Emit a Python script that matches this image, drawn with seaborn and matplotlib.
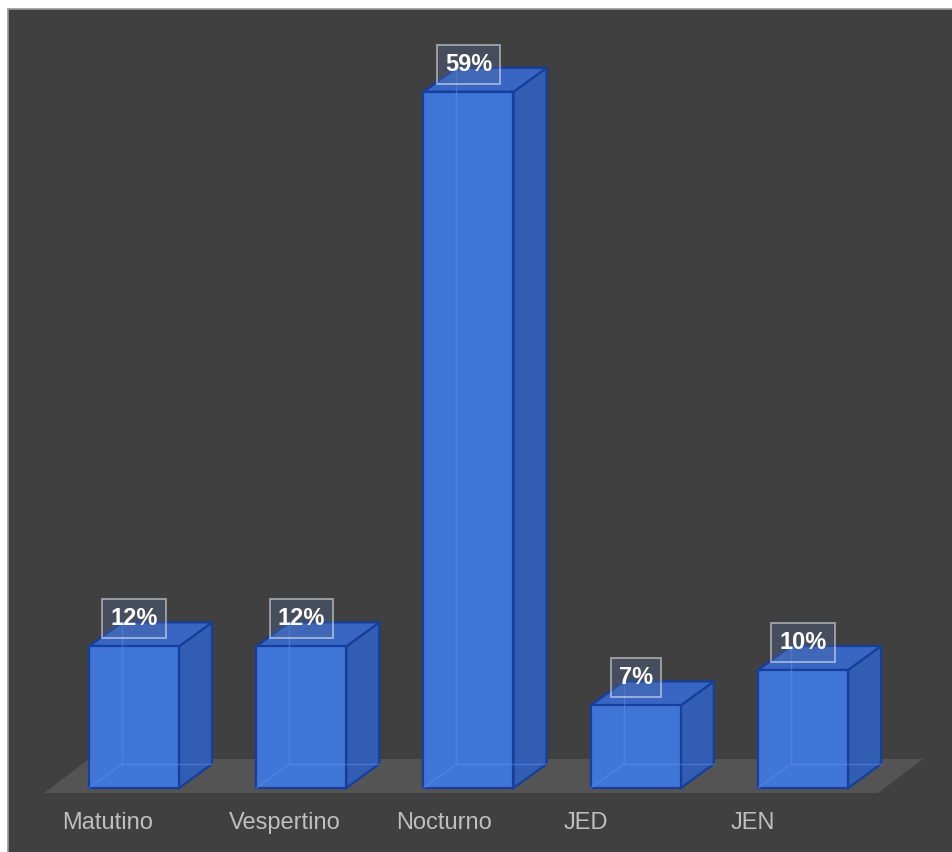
import numpy as np
import pandas as pd
import matplotlib
matplotlib.use("Agg")
import matplotlib.pyplot as plt
import seaborn as sns
from matplotlib.patches import Polygon, Rectangle
from matplotlib.lines import Line2D

categories = ["Matutino", "Vespertino", "Nocturno", "JED", "JEN"]
values = [12, 12, 59, 7, 10]
value_labels = ["12%", "12%", "59%", "7%", "10%"]

W, H = 953, 852
plt.rcParams["font.family"] = ["Liberation Sans", "DejaVu Sans"]

fig = plt.figure(figsize=(W / 100, H / 100), dpi=100)
fig.patch.set_facecolor("white")
# dark panel with thin light border at left/top
fig.patches.append(Rectangle((8 / W, 0), 1 - 8 / W, (H - 9) / H, transform=fig.transFigure,
                             facecolor="#404040", edgecolor="none", zorder=-2))
fig.lines.append(Line2D([8 / W, 8 / W], [0, (H - 9) / H], transform=fig.transFigure,
                        color="#9a9a9a", lw=1.2, zorder=-1))
fig.lines.append(Line2D([8 / W, 1], [(H - 9) / H, (H - 9) / H], transform=fig.transFigure,
                        color="#9a9a9a", lw=1.2, zorder=-1))

ax = fig.add_axes([0, 0, 1, 1])
ax.set_zorder(5)
ax.set_facecolor("none")

sx = 167.25   # px per category
sy = 11.8     # px per percent
base_px = 788

df = pd.DataFrame({"turno": categories, "pct": values})
sns.barplot(data=df, x="turno", y="pct", color="#3f78dd", saturation=1, width=90 / sx,
            edgecolor="#163e9c", linewidth=1.6, ax=ax, zorder=4)

ax.set_xlim(-134 / sx, (W - 134) / sx)
ax.set_ylim(-(H - base_px) / sy, base_px / sy)
ax.axis("off")

bars = list(ax.patches)
dx, dy = 33 / sx, 24 / sy

# floor
fx0 = bars[0].get_x() - 45 / sx
fx1 = bars[-1].get_x() + bars[-1].get_width() + 30 / sx
fy0 = -5 / sy
fdx, fdy = 45 / sx, 34 / sy
ax.add_patch(Polygon([(fx0, fy0), (fx1, fy0), (fx1 + fdx, fy0 + fdy), (fx0 + fdx, fy0 + fdy)],
                     closed=True, facecolor="#545454", edgecolor="none", zorder=1))

for p, lab in zip(bars, value_labels):
    x0 = p.get_x()
    w = p.get_width()
    h = p.get_height()
    x1 = x0 + w
    p.set_alpha(0.96)
    # side face
    ax.add_patch(Polygon([(x1, 0), (x1 + dx, dy), (x1 + dx, h + dy), (x1, h)], closed=True,
                         facecolor="#315eb2", edgecolor="#163e9c", lw=1.6, zorder=3))
    # top face
    ax.add_patch(Polygon([(x0, h), (x1, h), (x1 + dx, h + dy), (x0 + dx, h + dy)], closed=True,
                         facecolor="#3966c2", edgecolor="#163e9c", lw=1.6, zorder=3))
    # hidden edges seen through
    for xs, ys in [([x0, x0 + dx], [0, dy]), ([x0 + dx, x1 + dx], [dy, dy]),
                   ([x0 + dx, x0 + dx], [dy, h + dy])]:
        ax.plot(xs, ys, color="#5b8ff0", lw=1, alpha=0.5, zorder=5)
    # value label
    ax.text(x0 + w / 2, h + 2.35, lab, ha="center", va="center", fontsize=17,
            fontweight="bold", color="white", zorder=6,
            bbox=dict(boxstyle="square,pad=0.34", facecolor=(0.33, 0.43, 0.62, 0.32),
                      edgecolor=(1, 1, 1, 0.5), lw=1.3))

for p, cat in zip(bars, categories):
    xc = p.get_x() + p.get_width() / 2
    ax.text(xc - 72 / sx, -35 / sy, cat, ha="left", va="center", fontsize=17,
            color="#bfbfbf", zorder=6)

fig.savefig("out.png", dpi=100, facecolor=fig.get_facecolor())
